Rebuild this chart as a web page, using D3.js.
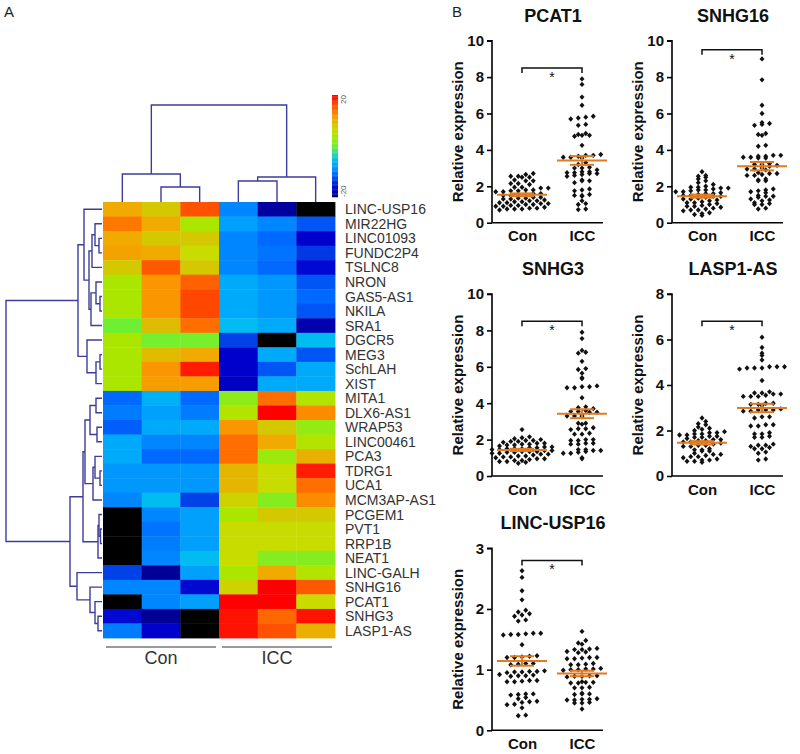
<!DOCTYPE html>
<html><head><meta charset="utf-8">
<script src="https://cdn.jsdelivr.net/npm/d3@7/dist/d3.min.js"></script>
<style>body{margin:0;background:#fff}svg{font-family:"Liberation Sans",Arial,sans-serif}</style>
</head><body><svg id="c" width="800" height="754"></svg>
<script>
// ---------------- DATA ----------------
const genes = ["LINC-USP16","MIR22HG","LINC01093","FUNDC2P4","TSLNC8","NRON","GAS5-AS1","NKILA","SRA1","DGCR5","MEG3","SchLAH","XIST","MITA1","DLX6-AS1","WRAP53","LINC00461","PCA3","TDRG1","UCA1","MCM3AP-AS1","PCGEM1","PVT1","RRP1B","NEAT1","LINC-GALH","SNHG16","PCAT1","SNHG3","LASP1-AS"];
const samples = ["Con-1","Con-2","Con-3","ICC-1","ICC-2","ICC-3"];
const sampleGroups = ["Con","ICC"];
// expression (scaled, -20..20); null = missing (drawn black)
const heatValues = [
 [10.5, 8, 16, -9.5, -18.5, null],
 [13.5, 10.5, 4, -8, -9.5, -12],
 [10.5, 8, 8, -9.5, -11, -16.5],
 [11, 10.5, 6, -9.5, -10.5, -13.5],
 [8, 15.5, 8, -9.5, -11, -16],
 [4, 12, 15, -7, -8.5, -12],
 [4, 12, 16.5, -7, -8.5, -11],
 [4, 12, 16.5, -7, -8.5, -12],
 [0, 9, 14, -5.5, -7, -18],
 [4, 0.5, 0.5, -13, null, -5.5],
 [4, 9, 10.5, -16.5, -7, -12],
 [4, 12, 18.5, -16.5, -12, -7],
 [4, 11.5, 11.5, -17, -7, -7],
 [-11, -6.5, -11, 2, 14, 4.5],
 [-10, -8, -10, 4.5, 20, 12.5],
 [-11.5, -7, -7, 12, 8, 2.5],
 [-7, -9.5, -9.5, 14, 10.5, 4.5],
 [-7, -11, -11, 14, 3, 10],
 [-8.5, -8.5, -8.5, 9.5, 6, 18.5],
 [-8.5, -8.5, -8.5, 9.5, 6, 14],
 [-9.5, -5.5, -13, 7, 1.5, 12.5],
 [null, -9.5, -8, 4, 8, 8],
 [null, -10.5, -8, 6, 6, 6],
 [null, -10, -8, 6, 6, 6],
 [null, -9.5, -5.5, 6, 1.5, 1.5],
 [-13, -19, -8, 4, 10.5, 4.5],
 [-9.5, -9.5, -16, 7, 20, 15.5],
 [null, -9.5, -8, 20, 20, 6],
 [-16, -19, null, 19, 14.5, 19],
 [-10, -16.5, null, 19, 16, 10]
];
const heatRange = [-20, 20];
// dendrograms: [height, left, right]; leaves = index
const rowTree = [96,
  [24,
    [18, 0, [13, [10, [7, 1, [3, 2, 3]], 4], [11, [6, 5, [2, 6, 7]], 8]]],
    [15, 9, [6, [2, 10, 11], 12]]],
  [32,
    [19,
      [17, [12, [6, 13, 14], [5, 15, 16]], [9, [7, 17, [2, 18, 19]], 20]],
      [4, [3, 21, [1.5, 22, 23]], 24]],
    [25, 25, [12, 26, [7, 27, [4, 28, 29]]]]]];
const colTree = [97, [28, 0, [15, 1, 2]], [25, [21, 3, 4], 5]];

// scatter panels
const panelGenes = ["PCAT1","SNHG16","SNHG3","LASP1-AS","LINC-USP16"];
const panelYMax = [10, 10, 10, 8, 3];
const panelTickStep = [2, 2, 2, 2, 1];
const panelSig = [8.5, 9.5, 8.5, 6.8, 2.8];
const PCAT1_Con = [2.7,2.65,2.55,2.55,2.5,2.5,2.35,2.3,2.3,1.25,1.3,2.15,2.15,2.1,1.05,1.95,1.95,1.9,1.9,1.8,1.8,1.75,1.75,1.7,1.7,1.6,1.6,1.55,1.55,1.5,1.5,1.4,1.4,1.35,1.35,1.3,1.2,1.2,1.15,1.15,1.1,1.0,1.0,0.95,0.95,0.9,0.8,0.8,0.75,0.75,0.75,0.7,0.85,0.9,1.05,1.1];
const PCAT1_ICC = [7.9,7.6,6.9,6.45,5.85,5.8,5.75,5.7,5.4,5.35,4.9,4.85,4.8,4.8,4.75,4.25,3.75,3.7,3.7,3.65,3.6,3.6,3.55,3.3,3.05,3.0,2.8,2.8,2.75,2.75,2.7,2.7,2.65,2.6,2.55,2.35,2.3,2.3,1.85,1.8,1.75,1.55,1.5,1.5,2.9,1.45,3.2,3.0,1.2,1.05,1.0,2.2,0.75,0.72];
const SNHG16_Con = [2.8,2.6,2.55,2.5,2.4,2.3,2.2,2.1,2.0,1.95,1.95,1.9,1.9,1.85,1.8,1.8,1.75,1.7,1.7,1.65,1.6,1.6,1.55,1.5,1.5,1.45,1.45,1.4,1.35,1.3,1.3,1.25,1.2,1.15,1.1,1.1,1.05,1.0,0.95,0.9,0.9,0.85,0.8,0.75,0.7,0.7,0.65,0.55,0.5,0.45,0.4];
const SNHG16_ICC = [9.0,7.85,6.45,6.0,5.5,5.45,5.4,5.35,4.9,4.85,4.8,4.25,4.2,3.7,3.7,3.65,3.65,3.6,3.6,3.55,3.55,3.25,3.2,3.2,3.15,3.1,3.0,2.95,2.95,2.9,2.75,2.7,2.7,2.65,2.6,2.6,2.4,2.35,2.3,2.3,1.85,1.8,1.75,1.7,1.65,1.5,1.45,1.45,1.4,1.3,1.25,1.2,1.1,1.05,1.0,1.0,0.8,0.75];
const SNHG3_Con = [2.55,2.15,2.1,2.05,2.0,1.95,1.95,1.9,1.9,1.85,1.8,1.8,1.75,1.75,1.7,1.7,1.65,1.6,1.6,1.55,1.55,1.5,1.5,1.5,1.45,1.45,1.4,1.4,1.35,1.35,1.35,1.3,1.3,1.25,1.25,1.2,1.2,1.15,1.1,1.1,1.05,1.05,1.0,0.95,0.95,0.9,0.85,0.85,0.8,0.8,0.75,0.7];
const SNHG3_ICC = [7.9,7.55,6.9,6.8,6.75,6.3,5.9,5.85,5.65,5.4,5.35,4.95,4.9,4.9,4.85,4.85,4.3,3.8,3.75,3.7,3.6,3.55,3.55,3.5,3.5,3.35,3.3,3.3,3.25,2.9,2.9,2.85,2.65,2.6,2.6,2.55,2.35,2.3,2.3,2.0,2.0,1.95,1.95,1.8,1.8,1.75,1.75,1.45,1.45,1.4,1.4,1.35,1.3,1.25,1.25,1.0,0.95];
const LASP1AS_Con = [2.55,2.4,2.3,2.25,2.15,2.1,2.05,2.0,1.95,1.9,1.9,1.85,1.85,1.8,1.8,1.75,1.75,1.7,1.7,1.65,1.6,1.6,1.55,1.55,1.5,1.5,1.45,1.4,1.35,1.35,1.3,1.3,1.2,1.15,1.15,1.1,1.1,1.0,0.95,0.95,0.9,0.85,0.85,0.8,0.75,0.7,0.7,0.65,0.65,0.6];
const LASP1AS_ICC = [6.1,5.65,5.4,5.3,5.1,4.8,4.8,4.8,4.75,4.75,4.75,4.7,4.2,3.7,3.65,3.65,3.6,3.6,3.55,3.5,3.5,3.5,3.2,3.2,3.15,3.15,3.1,2.95,2.9,2.9,2.9,2.85,2.85,2.6,2.6,2.55,2.25,2.25,2.2,2.2,1.9,1.85,1.85,1.75,1.7,1.7,1.4,1.35,1.35,1.3,1.25,1.2,1.2,1.05,1.0,0.75,0.7];
const LINCUSP16_Con = [2.63,2.52,2.3,2.15,1.98,1.95,1.92,1.9,1.88,1.82,1.8,1.6,1.6,1.59,1.58,1.58,1.57,1.41,1.23,1.22,1.21,1.2,1.2,1.1,1.1,1.09,1.08,0.98,0.97,0.97,0.96,0.96,0.95,0.92,0.91,0.9,0.9,0.89,0.82,0.82,0.81,0.8,0.8,0.6,0.6,0.59,0.58,0.54,0.52,0.48,0.47,0.46,0.43,0.42,0.37,0.25,0.24];
const LINCUSP16_ICC = [1.63,1.48,1.44,1.42,1.35,1.34,1.33,1.33,1.3,1.29,1.28,1.2,1.2,1.19,1.18,1.18,1.1,1.09,1.08,1.08,1.02,1.01,1.01,1.0,1.0,0.99,0.9,0.9,0.89,0.89,0.88,0.8,0.79,0.79,0.78,0.78,0.71,0.7,0.7,0.61,0.6,0.6,0.59,0.52,0.51,0.51,0.5,0.5,0.46,0.45,0.45,0.35];
const panelData = [[PCAT1_Con,PCAT1_ICC],[SNHG16_Con,SNHG16_ICC],[SNHG3_Con,SNHG3_ICC],[LASP1AS_Con,LASP1AS_ICC],[LINCUSP16_Con,LINCUSP16_ICC]];

// ---------------- DRAW ----------------
const svg = d3.select("#c");
const jetVals = [-20,-19,-16.5,-13,-12,-11,-9.5,-8,-7,-5.5,-3,0,4,6,8,10.5,12,14,16,18.5,20];
const jetCols = ["rgb(0,0,130)","rgb(0,0,150)","rgb(0,0,205)","rgb(0,65,232)","rgb(0,85,245)","rgb(0,105,255)","rgb(0,135,255)","rgb(0,160,252)","rgb(0,170,250)","rgb(0,188,240)","rgb(40,218,160)","rgb(110,240,50)","rgb(170,230,0)","rgb(200,220,0)","rgb(212,200,0)","rgb(240,170,0)","rgb(250,150,0)","rgb(255,110,0)","rgb(255,82,0)","rgb(255,28,0)","rgb(255,0,0)"];
const color = d3.scaleLinear().domain(jetVals).range(jetCols).interpolate(d3.interpolateRgb).clamp(true);

const hmL = 103, hmR = 335, hmT = 202, hmB = 638;
const xCell = d3.scaleBand().domain(d3.range(samples.length)).range([hmL, hmR]);
const yCell = d3.scaleBand().domain(d3.range(genes.length)).range([hmT, hmB]);

heatValues.forEach((row, i) => row.forEach((v, j) => {
  svg.append("rect").attr("x", xCell(j)).attr("y", yCell(i))
    .attr("width", xCell.bandwidth() + 0.4).attr("height", yCell.bandwidth() + 0.4)
    .attr("fill", v === null ? "#000" : color(v));
}));
svg.append("g").selectAll("text").data(genes).join("text")
  .attr("x", hmR + 10).attr("y", (d, i) => yCell(i) + yCell.bandwidth() / 2)
  .attr("dy", "0.36em").attr("font-size", 14).attr("fill", "#333").text(d => d);

const dendCol = "#3d3d9a";
const rowH = d3.scaleLinear().domain([0, 96]).range([102, 6]);
function drawRowTree(node) {
  if (typeof node === "number") return { y: yCell(node) + yCell.bandwidth() / 2, x: rowH(0) };
  const a = drawRowTree(node[1]), b = drawRowTree(node[2]);
  const x = rowH(node[0]);
  svg.append("path").attr("d", `M${a.x},${a.y}H${x}V${b.y}H${b.x}`)
    .attr("fill", "none").attr("stroke", dendCol).attr("stroke-width", 1.4);
  return { x, y: (a.y + b.y) / 2 };
}
drawRowTree(rowTree);
const colH = d3.scaleLinear().domain([0, 97]).range([hmT, 105]);
function drawColTree(node) {
  if (typeof node === "number") return { x: xCell(node) + xCell.bandwidth() / 2, y: colH(0) };
  const a = drawColTree(node[1]), b = drawColTree(node[2]);
  const y = colH(node[0]);
  svg.append("path").attr("d", `M${a.x},${a.y}V${y}H${b.x}V${b.y}`)
    .attr("fill", "none").attr("stroke", dendCol).attr("stroke-width", 1.4);
  return { x: (a.x + b.x) / 2, y };
}
drawColTree(colTree);

const cbY = d3.scaleLinear().domain(heatRange).range([197, 95]);
d3.range(heatRange[0], heatRange[1], 0.5).forEach(v => {
  svg.append("rect").attr("x", 332).attr("y", cbY(v + 0.5)).attr("width", 6)
    .attr("height", Math.abs(cbY(v) - cbY(v + 0.5)) + 0.3).attr("fill", color(v + 0.25));
});
svg.append("text").attr("transform", `translate(346,${cbY(20)}) rotate(-90)`)
  .attr("text-anchor", "end").attr("font-size", 8).attr("fill", "#555").text("20");
svg.append("text").attr("transform", `translate(346,${cbY(-20)}) rotate(-90)`)
  .attr("text-anchor", "start").attr("font-size", 8).attr("fill", "#555").text("-20");

const grpX = d3.scaleBand().domain(sampleGroups).range([hmL, hmR]);
sampleGroups.forEach(g => {
  svg.append("line").attr("x1", grpX(g) + 3).attr("x2", grpX(g) + grpX.bandwidth() - 3)
    .attr("y1", 647).attr("y2", 647).attr("stroke", "#999").attr("stroke-width", 2);
  svg.append("text").attr("x", grpX(g) + grpX.bandwidth() / 2).attr("y", 664)
    .attr("text-anchor", "middle").attr("font-size", 18).attr("fill", "#333").text(g);
});

svg.append("text").attr("x", 4).attr("y", 17).attr("font-size", 15).attr("fill", "#222").text("A");
svg.append("text").attr("x", 452).attr("y", 17).attr("font-size", 15).attr("fill", "#222").text("B");

const axisXs = [492, 672];
const plotTops = [40.7, 294, 548.3];
const plotH = 182;
const orange = "#e07b22";
panelGenes.forEach((name, p) => {
  const ax = axisXs[p % 2], top = plotTops[Math.floor(p / 2)], bottom = top + plotH;
  const y = d3.scaleLinear().domain([0, panelYMax[p]]).range([bottom, top]);
  const x = d3.scalePoint().domain(sampleGroups).range([ax + 30, ax + 90]);
  const g = svg.append("g").attr("font-weight", "bold");
  const ya = g.append("g").attr("transform", `translate(${ax},0)`)
    .call(d3.axisLeft(y).tickValues(d3.range(0, panelYMax[p] + 0.001, panelTickStep[p])).tickSize(5).tickPadding(3).tickFormat(d3.format("d")));
  ya.select(".domain").attr("stroke-width", 1.6).attr("d", `M-5,${top}H0V${bottom}`);
  ya.selectAll(".tick line").attr("stroke-width", 1.6);
  ya.selectAll(".tick text").attr("font-size", 15).attr("font-family", "Liberation Sans, Arial").attr("fill", "#111");
  const xa = g.append("g").attr("transform", `translate(0,${bottom})`)
    .call(d3.axisBottom(x).tickSize(0).tickPadding(8));
  xa.select(".domain").attr("stroke-width", 1.6).attr("d", `M${ax},0H${ax + 111}`);
  xa.selectAll(".tick text").attr("font-size", 15).attr("font-family", "Liberation Sans, Arial").attr("fill", "#111");
  g.append("text").attr("x", ax + 61).attr("y", top - 19).attr("text-anchor", "middle")
    .attr("font-size", 18).attr("fill", "#111").text(name);
  g.append("text").attr("transform", `translate(${ax - 29},${(top + bottom) / 2}) rotate(-90)`)
    .attr("text-anchor", "middle").attr("font-size", 15).attr("fill", "#111").text("Relative expression");
  panelData[p].forEach((vals, gi) => {
    const cx = x(sampleGroups[gi]);
    const bins = d3.group(vals.slice().sort(d3.ascending), v => Math.round(y(v) / 3.8));
    bins.forEach(arr => {
      arr.forEach((v, k) => {
        const off = (k - (arr.length - 1) / 2) * 7.5;
        g.append("path").attr("transform", `translate(${cx + off},${y(v)})`)
          .attr("d", "M0,-2.7L2.5,0L0,2.7L-2.5,0Z").attr("fill", "#111");
      });
    });
    const m = d3.mean(vals), se = d3.deviation(vals) / Math.sqrt(vals.length);
    const mg = g.append("g").attr("stroke", orange).attr("stroke-width", 2).attr("fill", "none");
    mg.append("line").attr("x1", cx - 25).attr("x2", cx + 25).attr("y1", y(m)).attr("y2", y(m));
    mg.append("line").attr("x1", cx).attr("x2", cx).attr("y1", y(m - se)).attr("y2", y(m + se));
    [m - se, m + se].forEach(v => mg.append("line").attr("x1", cx - 12).attr("x2", cx + 12).attr("y1", y(v)).attr("y2", y(v)));
  });
  const sy = y(panelSig[p]);
  g.append("path").attr("d", `M${x("Con")},${sy + 5}V${sy}H${x("ICC")}V${sy + 5}`)
    .attr("fill", "none").attr("stroke", "#111").attr("stroke-width", 1.5);
  g.append("text").attr("x", (x("Con") + x("ICC")) / 2).attr("y", sy + 14).attr("text-anchor", "middle")
    .attr("font-size", 14).attr("font-weight", "normal").attr("fill", "#111").text("*");
});
</script></body></html>
